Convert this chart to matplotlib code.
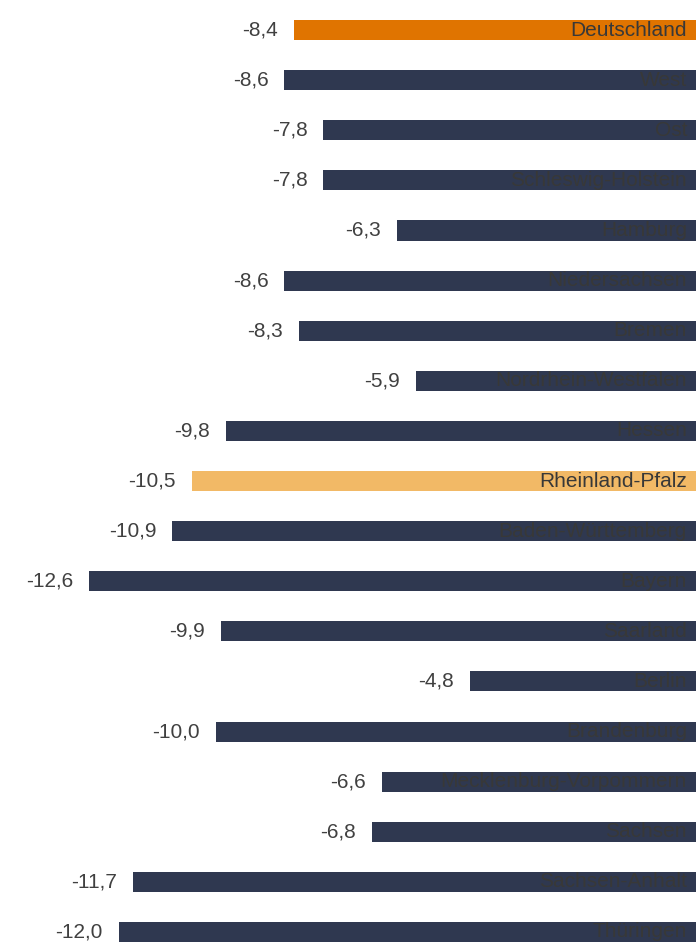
import matplotlib
matplotlib.use("Agg")
import matplotlib.pyplot as plt
import matplotlib.transforms as mtransforms

regions = ["Deutschland", "West", "Ost", "Schleswig-Holstein", "Hamburg", "Niedersachsen",
           "Bremen", "Nordrhein-Westfalen", "Hessen", "Rheinland-Pfalz", "Baden-Württemberg",
           "Bayern", "Saarland", "Berlin", "Brandenburg", "Mecklenburg-Vorpommern",
           "Sachsen", "Sachsen-Anhalt", "Thüringen"]
values = [-8.4, -8.6, -7.8, -7.8, -6.3, -8.6, -8.3, -5.9, -9.8, -10.5, -10.9,
          -12.6, -9.9, -4.8, -10.0, -6.6, -6.8, -11.7, -12.0]

dark = "#2f3850"
colors = [dark] * len(regions)
colors[0] = "#e07400"
colors[9] = "#f2b966"

plt.rcParams['font.family'] = ['Liberation Sans', 'DejaVu Sans']

fig = plt.figure(figsize=(6.96, 9.51), dpi=100)
ax = fig.add_axes([0, 0, 1, 1])
pos = list(range(len(regions)))
ax.barh(pos, values, height=0.4, color=colors)

ax.set_xlim(-14.43, -0.164)
ax.set_ylim(18.38, -0.6)
ax.axis('off')

trans = mtransforms.blended_transform_factory(ax.transAxes, ax.transData)
for i, (name, v) in enumerate(zip(regions, values)):
    ax.annotate(f"{v:.1f}".replace(".", ","), (v, i), xytext=(-11.5, 0),
                textcoords="offset points", ha="right", va="center",
                fontsize=15, color="#404040")
    ax.text(687 / 696, i, name, transform=trans, ha="right", va="center",
            fontsize=15, color="#383838")

fig.savefig("out.png", dpi=100)
